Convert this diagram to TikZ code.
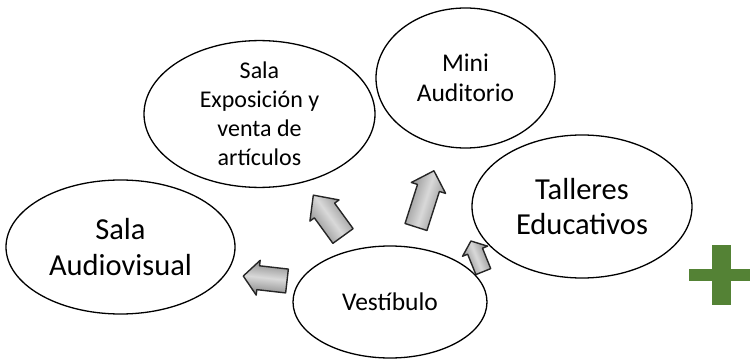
\documentclass[tikz,border=0pt]{standalone}
\usepackage{fontspec}
\setmainfont{Carlito}
\usetikzlibrary{shapes.geometric}
\definecolor{plusgreen}{HTML}{548235}
\tikzset{
  room/.style={ellipse, draw=black, line width=1.3pt, fill=white, inner sep=0pt, align=center, text=black},
  smalltext/.style={font=\fontsize{24}{29}\selectfont},
  midtext/.style={font=\fontsize{25.5}{29.5}\selectfont},
  bigtext/.style={font=\fontsize{30.5}{35.5}\selectfont},
  blockarr/.style={draw=black!85, line width=1.4pt, line join=round, top color=black!48, bottom color=black!48, middle color=black!15},
  plusmark/.style={fill=plusgreen, draw=none}
}
% #1 tail coordinate, #2 angle, #3 head base, #4 length, #5 shaft half width, #6 head half width
\newcommand\blockarrow[6]{%
  \draw[blockarr, shift={(#1)}, rotate=#2, shading angle=#2]
    (0pt,-#5pt) -- (#3pt,-#5pt) -- (#3pt,-#6pt) -- (#4pt,0pt) -- (#3pt,#6pt) -- (#3pt,#5pt) -- (0pt,#5pt) -- cycle;}
\begin{document}
\begin{tikzpicture}[x=1pt,y=-1pt]
\useasboundingbox (0,0) rectangle (750,361);
% arrow tails
\coordinate (a1) at (287,281);
\coordinate (a2) at (343,236);
\coordinate (a3) at (416,227);
\coordinate (a4) at (483.3,271.6);
\blockarrow{a1}{173.5}{29}{44}{12}{17.5}
\blockarrow{a2}{126}{31.5}{50.5}{12.5}{18}
\blockarrow{a3}{72.3}{41}{59}{11.5}{18}
\blockarrow{a4}{112}{22}{33}{8}{13.5}
% rooms
\node[room, bigtext, minimum width=229pt, minimum height=134pt] (aud) at (120.5,247) {Sala\\Audiovisual};
\node[room, smalltext, minimum width=231pt, minimum height=142pt] (expo) at (259.5,114) {Sala\\Exposición y\\venta de\\artículos};
\node[room, midtext, minimum width=179pt, minimum height=140pt] (mini) at (465.5,78) {Mini\\Auditorio};
\node[room, bigtext, minimum width=220pt, minimum height=143pt] (tall) at (582,206.5) {Talleres\\Educativos};
\node[room, midtext, minimum width=194pt, minimum height=112pt] (vest) at (390,302) {Vestíbulo};
% green plus
\fill[plusmark] (712.3,245.3) rectangle (730.7,304.7);
\fill[plusmark] (689,269) rectangle (750,281.3);
\end{tikzpicture}
\end{document}
